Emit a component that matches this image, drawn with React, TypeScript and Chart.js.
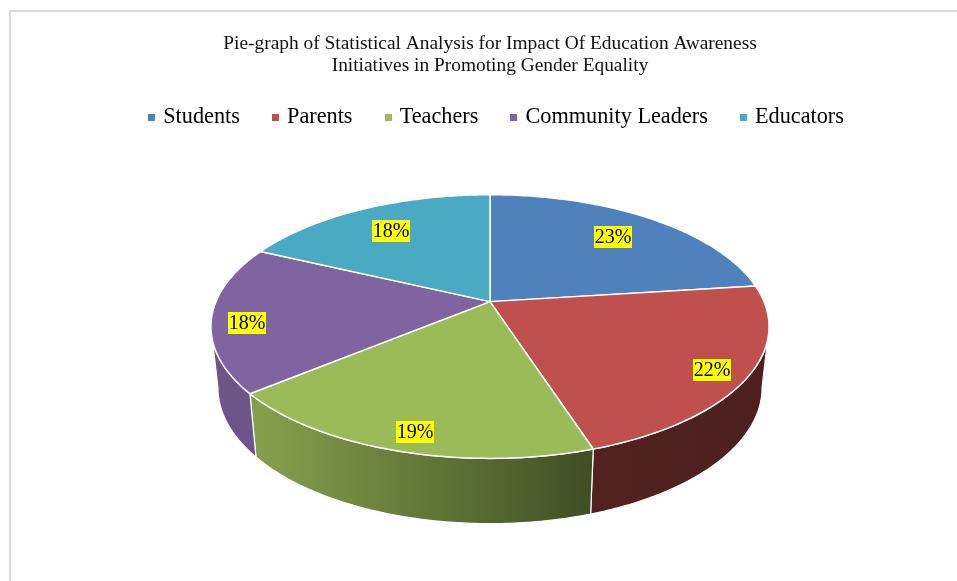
import React, { useEffect, useRef } from "react";
import { Chart, registerables } from "chart.js";

Chart.register(...registerables);

const titleLines = [
  "Pie-graph of Statistical Analysis for Impact Of Education Awareness",
  "Initiatives in Promoting Gender Equality",
];
const categories = ["Students", "Parents", "Teachers", "Community Leaders", "Educators"];
const shares = [23, 22, 19, 18, 18];
const sliceColors = ["#4f81bd", "#c0504d", "#9bbb59", "#8064a2", "#4aaac4"];
const labelRadii = [0.75, 0.875, 0.88, 0.88, 0.75];
const labelShiftX = [0, 0, 5, 1, -1];
const labelShiftY = [0, 3, 3, 7, 1];

const SERIF = '"Liberation Serif", serif';
const TILT = 0.464; // vertical squash of the top face
const DEPTH = -0.189; // perspective strength
const WALL_DROP = 60.5;
const WALL_SCALE_X = 0.975;
const WALL_SCALE_Y = 131 / 274;
const WALL_CLIP = 0.19; // angle at which the side wall becomes visible

type Pt = [number, number];

const topPoint = (cx: number, cy: number, r: number, a: number, f = 1): Pt => {
  const u = Math.cos(a) * f;
  const v = Math.sin(a) * f;
  const d = 1 + DEPTH * v;
  return [cx + (r * u) / d, cy + (r * TILT * v) / d];
};

const basePoint = (cx: number, cy: number, r: number, a: number): Pt => {
  const u = Math.cos(a);
  const v = Math.sin(a);
  const d = 1 + DEPTH * v;
  return [cx + (r * WALL_SCALE_X * u) / d, cy + WALL_DROP + (r * WALL_SCALE_Y * v) / d];
};

const shade = (hex: string, k: number) => {
  const n = parseInt(hex.slice(1), 16);
  const c = [(n >> 16) & 255, (n >> 8) & 255, n & 255].map((x) => Math.round(x * k));
  return `rgb(${c[0]},${c[1]},${c[2]})`;
};

// Tilted pie: each arc element supplies its angles and styling, and is projected here.
const tiltedPie = {
  id: "tiltedPie",
  beforeDraw(chart: any) {
    const { ctx } = chart;
    ctx.save();
    ctx.fillStyle = "#d9d9d9";
    ctx.fillRect(9, 10, 948, 2);
    ctx.fillRect(9, 10, 2, 571);
    ctx.restore();
  },
  afterLayout(chart: any) {
    chart.legend.left += 7.5;
    chart.legend.right += 7.5;
    chart.legend.top -= 6;
    chart.legend.bottom -= 6;
  },
  beforeDatasetsDraw(chart: any) {
    const { ctx } = chart;
    const arcs = chart.getDatasetMeta(0).data;
    const STEPS = 90;

    ctx.save();
    ctx.lineJoin = "round";

    arcs.forEach((arc: any) => {
      const { x, y, outerRadius: r, startAngle, endAngle } = arc;
      const from = Math.max(startAngle, WALL_CLIP);
      const to = Math.min(endAngle, Math.PI - WALL_CLIP);
      if (to <= from) return;
      const grad = ctx.createLinearGradient(x - r, 0, x + r, 0);
      const color = arc.options.backgroundColor;
      grad.addColorStop(0, shade(color, 0.85));
      grad.addColorStop(0.085, shade(color, 0.85));
      grad.addColorStop(0.68, shade(color, 0.42));
      grad.addColorStop(1, shade(color, 0.4));
      ctx.beginPath();
      for (let i = 0; i <= STEPS; i++) {
        const p = topPoint(x, y, r, from + ((to - from) * i) / STEPS);
        if (i === 0) ctx.moveTo(p[0], p[1]);
        else ctx.lineTo(p[0], p[1]);
      }
      for (let i = STEPS; i >= 0; i--) {
        const p = basePoint(x, y, r, from + ((to - from) * i) / STEPS);
        ctx.lineTo(p[0], p[1]);
      }
      ctx.closePath();
      ctx.fillStyle = grad;
      ctx.fill();
      ctx.strokeStyle = arc.options.borderColor;
      ctx.lineWidth = 1.2;
      ctx.stroke();
    });

    arcs.forEach((arc: any) => {
      const { x, y, outerRadius: r, startAngle, endAngle } = arc;
      ctx.beginPath();
      ctx.moveTo(x, y);
      for (let i = 0; i <= STEPS; i++) {
        const p = topPoint(x, y, r, startAngle + ((endAngle - startAngle) * i) / STEPS);
        ctx.lineTo(p[0], p[1]);
      }
      ctx.closePath();
      ctx.fillStyle = arc.options.backgroundColor;
      ctx.fill();
      ctx.strokeStyle = arc.options.borderColor;
      ctx.lineWidth = arc.options.borderWidth;
      ctx.stroke();
    });

    ctx.font = `20px ${SERIF}`;
    ctx.textAlign = "center";
    ctx.textBaseline = "middle";
    arcs.forEach((arc: any, i: number) => {
      const { x, y, outerRadius: r, startAngle, endAngle } = arc;
      const p = topPoint(x, y, r, (startAngle + endAngle) / 2, labelRadii[i]);
      const text = `${shares[i]}%`;
      const lx = Math.round(p[0] + labelShiftX[i]);
      const ly = Math.round(p[1] + labelShiftY[i]);
      ctx.fillStyle = "#ffff00";
      ctx.fillRect(lx - 19, ly - 11, 38, 22);
      ctx.fillStyle = "#000000";
      ctx.fillText(text, lx, ly + 1);
    });

    ctx.restore();
    return false;
  },
};

const legendSwatch = (color: string) => {
  const c = document.createElement("canvas");
  c.width = 7;
  c.height = 7;
  const g = c.getContext("2d")!;
  g.fillStyle = color;
  g.fillRect(0, 0, 7, 7);
  return c;
};

export default function App() {
  const ref = useRef<HTMLCanvasElement>(null);

  useEffect(() => {
    document.body.style.margin = "0";
    const chart = new Chart(ref.current!, {
      type: "pie",
      data: {
        labels: categories,
        datasets: [
          {
            data: shares,
            backgroundColor: sliceColors,
            borderColor: "#ffffff",
            borderWidth: 1.5,
            radius: 274,
          },
        ],
      },
      plugins: [tiltedPie],
      options: {
        responsive: false,
        animation: false,
        layout: { padding: { left: 23, right: 0, top: 0, bottom: 122 } },
        plugins: {
          tooltip: { enabled: false },
          title: {
            display: true,
            text: titleLines,
            color: "#111111",
            font: { family: SERIF, size: 19.4, weight: "normal", lineHeight: 1.134 },
            padding: { top: 33, bottom: 0 },
          },
          legend: {
            display: true,
            position: "top",
            labels: {
              usePointStyle: true,
              boxWidth: 1,
              boxHeight: 7,
              padding: 35,
              color: "#111111",
              font: { family: SERIF, size: 22.25 },
              generateLabels: () =>
                categories.map((text, i) => ({
                  text,
                  fillStyle: sliceColors[i],
                  strokeStyle: sliceColors[i],
                  lineWidth: 0,
                  pointStyle: legendSwatch(sliceColors[i]),
                  hidden: false,
                  index: i,
                })),
            },
          },
        },
      },
    } as any);
    return () => chart.destroy();
  }, []);

  return (
    <div style={{ position: "absolute", left: 0, top: 0, width: 957, height: 581 }}>
      <canvas ref={ref} width={957} height={581} style={{ display: "block" }} />
    </div>
  );
}
